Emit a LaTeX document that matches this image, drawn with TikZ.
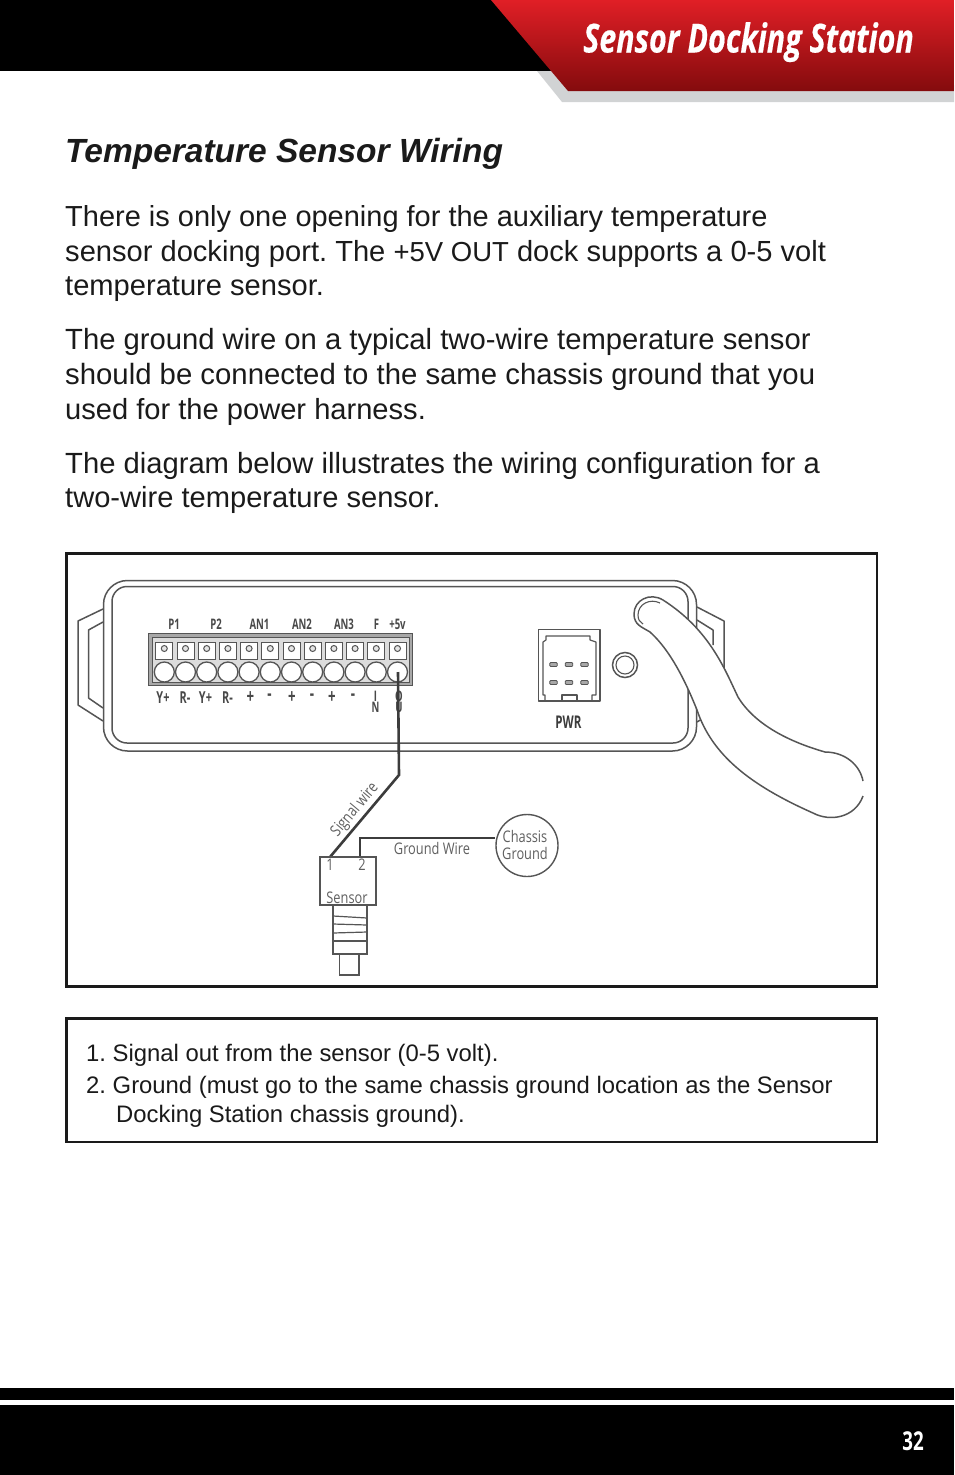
\documentclass[tikz,border=0pt]{standalone}
\usepackage{fontspec}
\setmainfont{Liberation Sans}
\newfontfamily\headfont[FakeStretch=0.76,FakeBold=0.4]{Open Sans Bold Italic}
\newfontfamily\labfont[FakeStretch=0.8]{Open Sans}
\newfontfamily\pagefont[FakeStretch=0.72]{Open Sans Bold}
\newfontfamily\labbold[FakeStretch=0.66]{Open Sans Bold}
\usetikzlibrary{calc}
\definecolor{redtop}{HTML}{E01F26}
\definecolor{redbot}{HTML}{840B0D}
\definecolor{shadeg}{HTML}{D1D3D4}
\definecolor{ink}{HTML}{1A1A1A}
\definecolor{lineg}{HTML}{555555}
\definecolor{blockg}{HTML}{A8A8A8}
\definecolor{labg}{HTML}{606060}
\tikzset{
  bodytext/.style={anchor=base west,inner sep=0pt,text=ink,font=\fontsize{29.1}{34}\selectfont},
  notetext/.style={anchor=base west,inner sep=0pt,text=ink,font=\fontsize{23.85}{29}\selectfont},
  frame/.style={draw=ink,line width=2.4pt,fill=white,outer sep=0pt,inner sep=0pt,anchor=north west},
  devline/.style={draw=lineg,line width=1.5pt},
  wire/.style={draw=ink!85,line width=2.6pt,line join=miter},
  toplab/.style={inner sep=0pt,text=ink!80,font=\labbold\fontsize{14.5}{14.5}\selectfont},
  botlab/.style={inner sep=0pt,text=ink!80,font=\labbold\fontsize{16.5}{16.5}\selectfont},
  signlab/.style={inner sep=0pt,text=ink!80,font=\labbold\fontsize{20}{20}\selectfont},
  glab/.style={inner sep=0pt,text=labg,font=\labfont\fontsize{16}{16}\selectfont},
}
\begin{document}
\frenchspacing
\begin{tikzpicture}[x=1pt,y=-1pt]
\useasboundingbox (0,0) rectangle (954,1475);
% header
\fill[black] (0,0) rectangle (560,71);
\fill[shadeg] (537,71) -- (562,102) -- (954,102) -- (954,85) -- (550,71) -- cycle;
\path[top color=redtop,bottom color=redbot] (491,0) -- (954,0) -- (954,91) -- (568,91) -- cycle;
\node[anchor=base east,inner sep=0pt,text=white,font=\headfont\fontsize{40}{40}\selectfont] (head) at (914,52.5) {Sensor Docking Station};
% text
\node[anchor=base west,inner sep=0pt,text=ink,font=\bfseries\itshape\fontsize{33.5}{38}\selectfont] (title) at (65,162) {Temperature Sensor Wiring};
\node[bodytext,font=\fontsize{28.98}{34}\selectfont] (l1) at (65,226) {There is only one opening for the auxiliary temperature};
\node[bodytext] (l2) at (65,261) {sensor docking port. The {\fontsize{27.5}{34}\selectfont +5V OUT} dock supports a 0-5 volt};
\node[bodytext] (l3) at (65,295) {temperature sensor.};
\node[bodytext,font=\fontsize{29.22}{34}\selectfont] (l4) at (65,349) {The ground wire on a typical two-wire temperature sensor};
\node[bodytext,font=\fontsize{29.33}{34}\selectfont] (l5) at (65,384) {should be connected to the same chassis ground that you};
\node[bodytext] (l6) at (65,419) {used for the power harness.};
\node[bodytext,font=\fontsize{29.2}{34}\selectfont] (l7) at (65,473) {The diagram below illustrates the wiring configuration for a};
\node[bodytext] (l8) at (65,507) {two-wire temperature sensor.};
% frames
\node[frame,minimum width=810.5pt,minimum height=433pt] (diagram) at (66.3,553.5) {};
\node[frame,minimum width=810.5pt,minimum height=123.5pt] (notes) at (66.3,1018.5) {};
\node[notetext] (n1) at (86,1061) {1. Signal out from the sensor (0-5 volt).};
\node[notetext] (n2) at (86,1093) {2. Ground (must go to the same chassis ground location as the Sensor};
\node[notetext] (n3) at (116,1122) {Docking Station chassis ground).};
% footer
\fill[black] (0,1388) rectangle (954,1400);
\fill[black] (0,1405) rectangle (954,1475);
\node[inner sep=0pt,text=white,font=\pagefont\fontsize{26}{26}\selectfont] (page) at (913,1441) {32};
% handles
\draw[devline,line join=round] (103,609) -- (78,621) -- (78,705) -- (103,721);
\draw[devline,line join=round] (103,622) -- (88.5,630) -- (88.5,698) -- (103,708);
\draw[devline,line join=round] (697,607) -- (724,621) -- (724,668);
\draw[devline,line join=round] (697,620) -- (713,630) -- (713,645);
\draw[devline] (697,722) -- (702,719);
% body
\draw[devline,rounded corners=24pt,fill=white] (103.5,580.5) rectangle (696.5,751);
\draw[devline,rounded corners=15pt] (112,586.5) rectangle (688,743);
% terminal block
\draw[draw=lineg,line width=1pt,fill=blockg] (148.5,633.5) rectangle (412.5,685);
\draw[draw=lineg,line width=.8pt,fill=white!60!blockg] (152,637) rectangle (409,682);
\foreach \i in {0,...,11}{
  \pgfmathsetmacro{\cx}{164.3+21.2*\i}
  \draw[draw=lineg,line width=.9pt,fill=white] (\cx-8.5,642) rectangle (\cx+8.5,659.5);
  \draw[draw=lineg,line width=1pt,fill=white!70!blockg] (\cx,648.5) circle (3);
  \draw[draw=lineg,line width=1.3pt,fill=white] (\cx,672) circle (10);
}
\foreach \n/\x/\t in {a/174/P1,b/216/P2,c/259.5/AN1,d/302/AN2,e/344/AN3,f/376.5/F,g/397.5/+5v}
  \node[toplab] (top\n) at (\x,624) {\t};
\foreach \n/\x/\t in {a/163/Y+,b/185/R-,c/205.5/Y+,d/227.5/R-}
  \node[botlab] (bot\n) at (\x,697.5) {\t};
\foreach \n/\x/\t in {e/250.5/+,f/269.5/-,g/292/+,h/312/-,i/332/+,j/353/-}
  \node[signlab] (bot\n) at (\x,697.5) {\t};
\node[toplab] (botk) at (375.5,696.5) {I};
\node[toplab] (botl) at (375.5,707) {N};
\node[toplab] (botm) at (399,696) {O};
\node[toplab] (botn) at (399,707) {U};
% PWR connector
\draw[devline,line width=1.2pt,line join=round,fill=white] (538.5,629.5) rectangle (600,701);
\draw[devline,line width=1.2pt,line join=round] (545,701) -- (545,695) -- (543,695) -- (543,642) -- (546,640) -- (546,636) -- (590,636) -- (590,640) -- (596,642) -- (596,695) -- (592,695) -- (592,701);
\draw[devline,line width=1.2pt,line join=round] (562,701) -- (562,695) -- (577,695) -- (577,701);
\foreach \x in {553.5,569,584.5}\foreach \y in {664.5,682.5}
  \draw[draw=lineg,line width=.8pt,fill=blockg,rounded corners=1pt] (\x-3.8,\y-2) rectangle (\x+3.8,\y+2);
\node[inner sep=0pt,text=ink!85,font=\labbold\fontsize{17.5}{17.5}\selectfont] (pwr) at (568.5,722.5) {PWR};
% knob
\draw[devline] (625,665) circle (12.5);
\draw[devline,line width=1.1pt] (625,665) circle (9);
% cable
\draw[devline,fill=white,line join=round] (863,781) .. controls (860,765) and (845,752) .. (825,752) .. controls (790,742) and (755,725) .. (738,697) .. controls (725,670) and (710,630) .. (663,600) .. controls (650,592) and (634,600) .. (634,614) .. controls (634,625) and (642,627) .. (650,632) .. controls (670,650) and (685,680) .. (697,710) .. controls (712,755) and (750,785) .. (813,813) .. controls (830,822) and (855,818) .. (863,796);
\draw[devline,line width=1.1pt] (660,603) .. controls (650,598) and (638,604) .. (638,615) .. controls (638,620) and (640,622) .. (643,624);
% wires
\coordinate (t12) at (398,672);
\coordinate (bend) at (399,775);
\coordinate (pin1) at (330,857);
\coordinate (pin2) at (360,857);
\coordinate (gcorner) at (360,838);
\node[draw=lineg,line width=1.4pt,circle,minimum size=62pt,inner sep=0pt] (chassis) at (527,845.5) {};
\node[glab] (cht1) at (525,836) {Chassis};
\node[glab] (cht2) at (525,853.5) {Ground};
\draw[wire] (t12) -- (bend) -- (pin1);
\draw[wire] (pin2) -- (gcorner) -- (chassis.west |- gcorner);
\node[glab,rotate=50] (sigt) at (355,810) {Signal wire};
\node[glab] (gndt) at (432,848.5) {Ground Wire};
% sensor
\node[draw=lineg,line width=1.4pt,minimum width=56pt,minimum height=48pt,inner sep=0pt] (sensor) at (348,881) {};
\node[glab] (s1) at (330,865) {1};
\node[glab] (s2) at (362,865) {2};
\node[glab] (st) at (347,898) {Sensor};
\draw[devline] (333,905) rectangle (367,954);
\foreach \a/\b in {916/918,924/925,933/932,941/941}
  \draw[devline,line width=1.2pt] (333,\a) -- (367,\b);
\draw[devline] (339.5,954) rectangle (359,975);
\end{tikzpicture}
\end{document}
